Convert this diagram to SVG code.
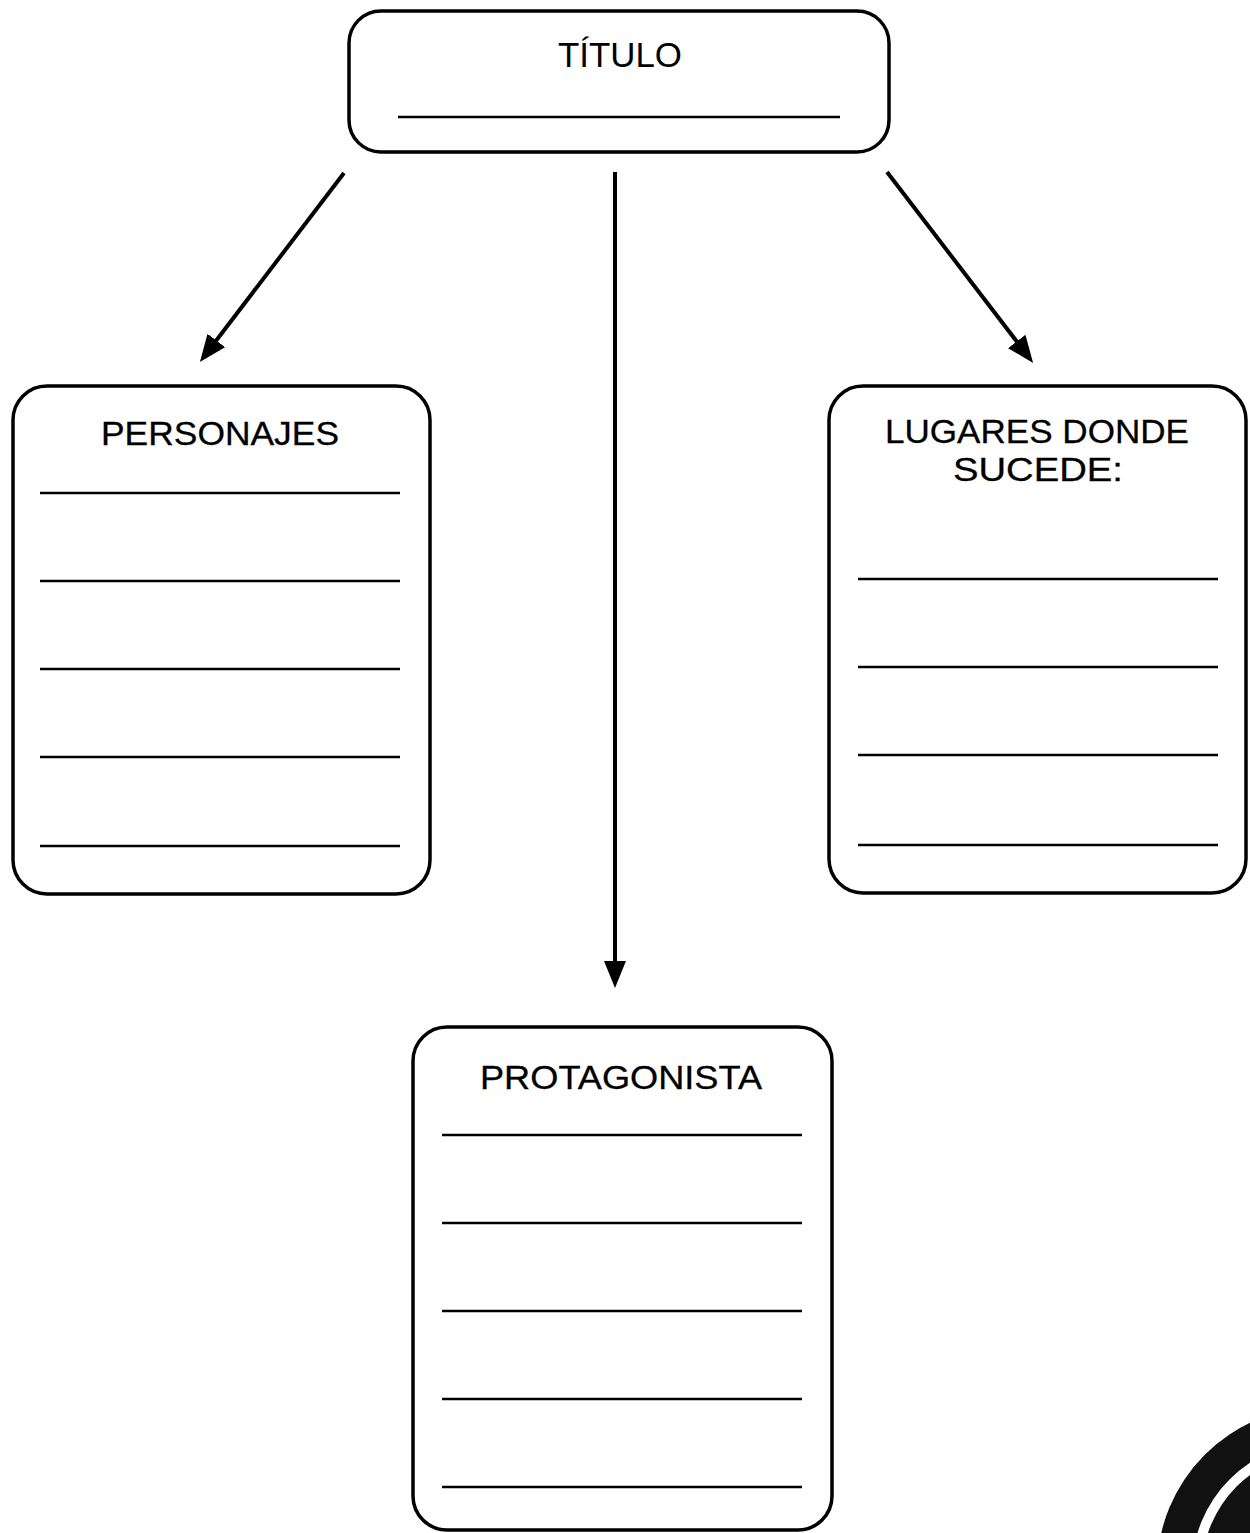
<svg xmlns="http://www.w3.org/2000/svg" width="1250" height="1533" viewBox="0 0 1250 1533">
<style>
.box{fill:#fff;stroke:#000;stroke-width:3.5}
.ln{stroke:#000;stroke-width:2.5}
.lbl{font-family:"Liberation Sans",Arial,sans-serif;font-size:33px;fill:#000;stroke:#000;stroke-width:0.3;text-anchor:middle}
.conn{stroke:#000;stroke-width:4;fill:none;marker-end:url(#ah)}
</style>
<defs>
<marker id="ah" markerUnits="userSpaceOnUse" markerWidth="28" markerHeight="22" viewBox="0 0 28 22" refX="12" refY="11" orient="auto">
<path d="M0,0 L27,11 L0,22 z" fill="#000"/>
</marker>
</defs>
<rect width="1250" height="1533" fill="#fff"/>
<g id="connectors">
<line class="conn" x1="344" y1="173" x2="209" y2="350"/>
<line class="conn" x1="615" y1="172" x2="615" y2="973"/>
<line class="conn" x1="887" y1="172" x2="1024" y2="351"/>
</g>
<g id="titulo">
<rect class="box" x="349" y="11" width="540" height="141" rx="32"/>
<text class="lbl" x="620" y="67" style="font-size:35px;stroke-width:0" textLength="124" lengthAdjust="spacingAndGlyphs">TÍTULO</text>
<line class="ln" x1="398" y1="117" x2="840" y2="117"/>
</g>
<g id="personajes">
<rect class="box" x="13" y="386" width="417" height="508" rx="34"/>
<text class="lbl" x="220" y="445" textLength="238" lengthAdjust="spacingAndGlyphs">PERSONAJES</text>
<line class="ln" x1="40" y1="493" x2="400" y2="493"/>
<line class="ln" x1="40" y1="581" x2="400" y2="581"/>
<line class="ln" x1="40" y1="669" x2="400" y2="669"/>
<line class="ln" x1="40" y1="757" x2="400" y2="757"/>
<line class="ln" x1="40" y1="846" x2="400" y2="846"/>
</g>
<g id="lugares">
<rect class="box" x="829" y="386" width="417" height="507" rx="34"/>
<text class="lbl" x="1037" y="443" textLength="304" lengthAdjust="spacingAndGlyphs">LUGARES DONDE</text>
<text class="lbl" x="1038" y="481" textLength="170" lengthAdjust="spacingAndGlyphs">SUCEDE:</text>
<line class="ln" x1="858" y1="579" x2="1218" y2="579"/>
<line class="ln" x1="858" y1="667" x2="1218" y2="667"/>
<line class="ln" x1="858" y1="755" x2="1218" y2="755"/>
<line class="ln" x1="858" y1="845" x2="1218" y2="845"/>
</g>
<g id="protagonista">
<rect class="box" x="413" y="1027" width="419" height="503" rx="34"/>
<text class="lbl" x="621" y="1089" textLength="282" lengthAdjust="spacingAndGlyphs">PROTAGONISTA</text>
<line class="ln" x1="442" y1="1135" x2="802" y2="1135"/>
<line class="ln" x1="442" y1="1223" x2="802" y2="1223"/>
<line class="ln" x1="442" y1="1311" x2="802" y2="1311"/>
<line class="ln" x1="442" y1="1399" x2="802" y2="1399"/>
<line class="ln" x1="442" y1="1487" x2="802" y2="1487"/>
</g>
<g id="stamp">
<path d="M1320,1407 A163,163 0 0 0 1157,1570 L1192,1570 A128,128 0 0 1 1320,1442 z" fill="#111"/>
<path d="M1320,1452 A118,118 0 0 0 1202,1570 L1320,1570 z" fill="#111"/>
</g>
</svg>
